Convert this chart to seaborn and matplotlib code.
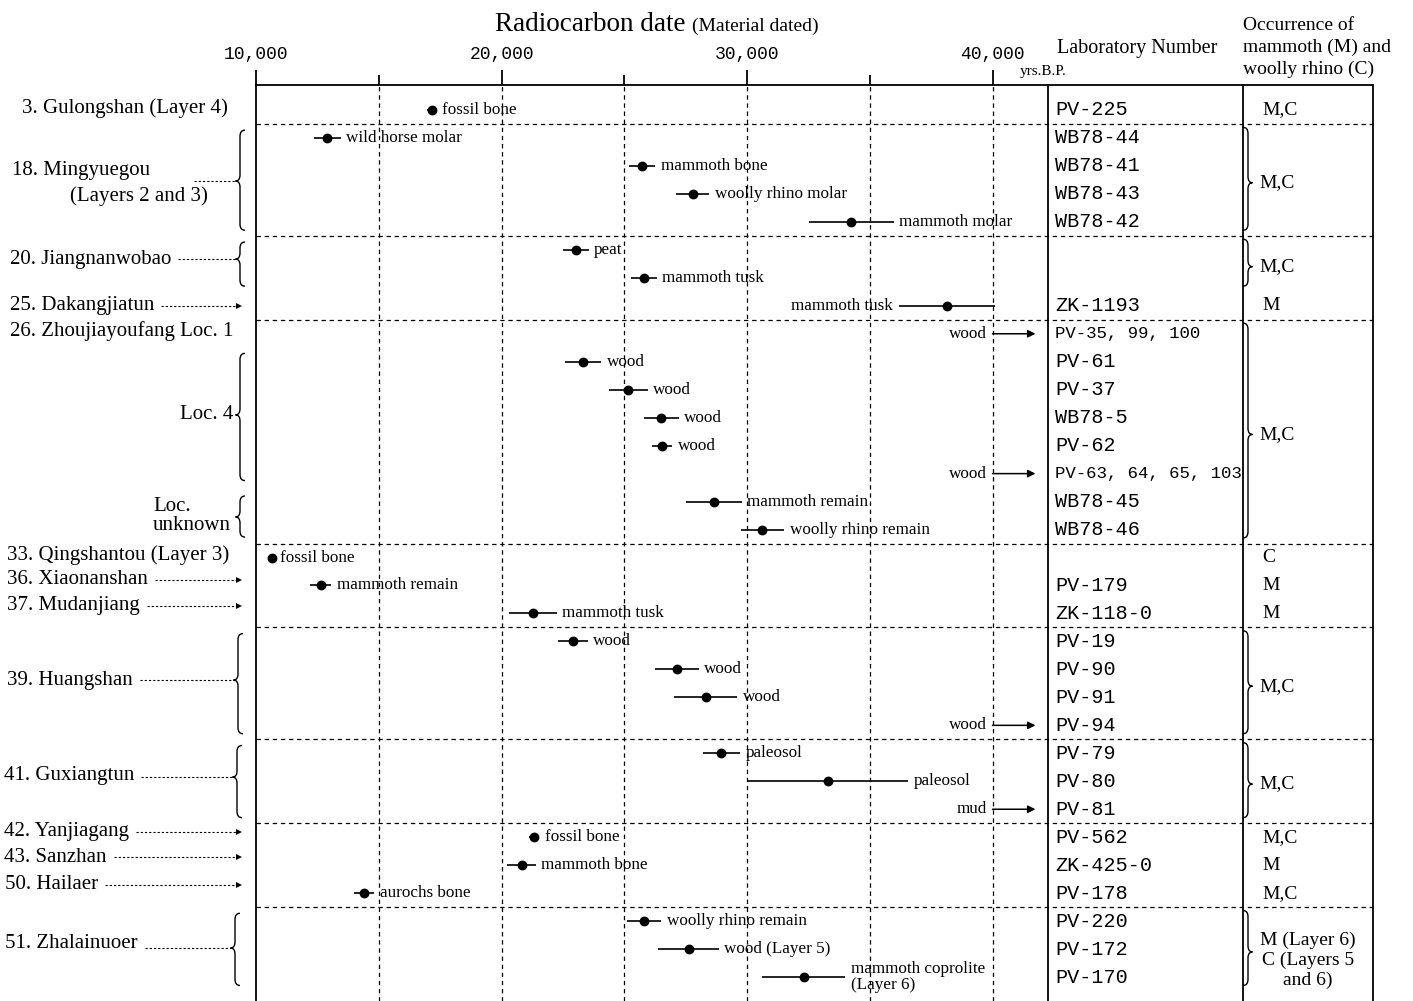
import numpy as np
import pandas as pd
import matplotlib
matplotlib.use("Agg")
import matplotlib.pyplot as plt
import matplotlib.transforms as mtransforms
from matplotlib.path import Path
from matplotlib.patches import PathPatch
from matplotlib.lines import Line2D
import seaborn as sns

# ---------------- data ----------------
materials = ["fossil bone", "wild horse molar", "mammoth bone", "woolly rhino molar", "mammoth molar",
             "peat", "mammoth tusk", "mammoth tusk",
             "wood", "wood", "wood", "wood", "wood", "wood", "mammoth remain", "woolly rhino remain",
             "fossil bone", "mammoth remain", "mammoth tusk",
             "wood", "wood", "wood", "wood",
             "paleosol", "paleosol", "mud",
             "fossil bone", "mammoth bone", "aurochs bone",
             "woolly rhino remain", "wood (Layer 5)", "mammoth coprolite\n(Layer 6)"]
# radiocarbon dates (yrs B.P.); NaN = older than 40,000 (open-ended)
dates = [17150, 12900, 25730, 27790, 34250,
         23030, 25800, 38150,
         np.nan, 23330, 25170, 26510, 26530, np.nan, 28650, 30630,
         10660, 12630, 21270,
         22910, 27140, 28310, np.nan,
         28960, 33290, np.nan,
         21340, 20820, 14410,
         25800, 27620, 32310]
errors = [200, 550, 540, 670, 1730,
          520, 530, 1940,
          0, 740, 780, 700, 420, 0, 1140, 880,
          0, 440, 980,
          610, 890, 1300, 0,
          770, 3260, 0,
          200, 580, 415,
          700, 1230, 1680]
lab_numbers = ["PV-225", "WB78-44", "WB78-41", "WB78-43", "WB78-42",
               "", "", "ZK-1193",
               "PV-35, 99, 100", "PV-61", "PV-37", "WB78-5", "PV-62", "PV-63, 64, 65, 103", "WB78-45", "WB78-46",
               "", "PV-179", "ZK-118-0",
               "PV-19", "PV-90", "PV-91", "PV-94",
               "PV-79", "PV-80", "PV-81",
               "PV-562", "ZK-425-0", "PV-178",
               "PV-220", "PV-172", "PV-170"]
open_limit = 40000
open_end = 41750

site_names = ["3. Gulongshan (Layer 4)", "18. Mingyuegou", "20. Jiangnanwobao", "25. Dakangjiatun",
              "26. Zhoujiayoufang Loc. 1", "33. Qingshantou (Layer 3)", "36. Xiaonanshan", "37. Mudanjiang",
              "39. Huangshan", "41. Guxiangtun", "42. Yanjiagang", "43. Sanzhan", "50. Hailaer",
              "51. Zhalainuoer"]
site_counts = [1, 4, 2, 1, 8, 1, 1, 1, 4, 3, 1, 1, 1, 3]
site_block = [0, 1, 2, 2, 3, 4, 4, 4, 5, 6, 7, 7, 7, 8]
occurrence = ["M,C", "M,C", "M,C", "M", "M,C", "C", "M", "M", "M,C", "M,C", "M,C", "M", "M,C",
              "M (Layer 6)\nC (Layers 5\nand 6)"]
sub_localities = ["Loc. 4", "Loc.\nunknown"]
sub_loc_rows = [(9, 13), (14, 15)]

tick_values = [10000, 20000, 30000, 40000]
tick_labels = ["10,000", "20,000", "30,000", "40,000"]
minor_values = [15000, 25000, 35000]

# ---------------- layout ----------------
W, H = 1413, 1001
SERIF = ["Liberation Serif", "DejaVu Serif"]
MONO = ["Liberation Mono", "DejaVu Sans Mono"]

sns.set_style("white")
plt.rcParams["font.family"] = SERIF
plt.rcParams["text.color"] = "black"
plt.rcParams["xtick.color"] = "black"
plt.rcParams["axes.edgecolor"] = "black"

fig = plt.figure(figsize=(W / 100, H / 100), dpi=100)
top_px, left_px, right_px = 85, 256, 1048
ax = fig.add_axes([left_px / W, 0, (right_px - left_px) / W, (H - top_px) / H])

def fx(px):
    return px / W

def fy(py):
    return 1 - py / H

blend = mtransforms.blended_transform_factory(fig.transFigure, ax.transData)
row_top = (top_px - 110) / 27.97
row_bottom = (H - 110) / 27.97

n = len(materials)
df = pd.DataFrame({"row": np.arange(n), "material": materials, "date": dates,
                   "err": errors, "lab": lab_numbers})
closed = df[df["date"].notna()]

MAT_FS = 12.3

# error bars + points
ax.hlines(closed["row"], closed["date"] - closed["err"], closed["date"] + closed["err"],
          color="black", lw=1.2, zorder=3)
sns.scatterplot(data=closed, x="date", y="row", color="black", s=50, linewidth=0,
                ax=ax, legend=False, zorder=4)

for _, r in df.iterrows():
    if np.isnan(r["date"]):
        ax.annotate("", xy=(open_end, r["row"]), xytext=(open_limit, r["row"]),
                    arrowprops=dict(arrowstyle="-|>", color="black", lw=1.1,
                                    mutation_scale=11, shrinkA=0, shrinkB=0), zorder=4)
        ax.annotate(r["material"], xy=(open_limit, r["row"]), xytext=(-4, 0),
                    textcoords="offset points", ha="right", va="center", fontsize=MAT_FS)
    elif r["row"] == 7:
        ax.annotate(r["material"], xy=(r["date"] - r["err"], r["row"]), xytext=(-5, 0),
                    textcoords="offset points", ha="right", va="center", fontsize=MAT_FS)
    elif r["err"] == 0:
        ax.annotate(r["material"], xy=(r["date"], r["row"]), xytext=(5.5, 0),
                    textcoords="offset points", ha="left", va="center", fontsize=MAT_FS)
    else:
        ax.annotate(r["material"], xy=(r["date"] + r["err"], r["row"]), xytext=(4, 0),
                    textcoords="offset points", ha="left", va="center", fontsize=MAT_FS,
                    linespacing=1.05)

# axes styling
ax.set_xlim(10000, 42260)
ax.set_ylim(row_bottom, row_top)
ax.xaxis.tick_top()
ax.set_xticks(tick_values)
ax.set_xticklabels(tick_labels, fontfamily=MONO, fontsize=13, color="black")
ax.set_xticks(minor_values, minor=True)
ax.tick_params(axis="x", which="major", direction="out", length=11, width=1.3, pad=5,
               top=True, bottom=False, colors="black")
ax.tick_params(axis="x", which="minor", direction="out", length=7.5, width=1.3,
               top=True, bottom=False, colors="black")
ax.set_yticks([])
ax.set_xlabel("")
ax.set_ylabel("")
for s in ["top", "left", "right"]:
    ax.spines[s].set_visible(True)
    ax.spines[s].set_color("black")
    ax.spines[s].set_linewidth(1.3)
ax.spines["bottom"].set_visible(False)
for xv in minor_values + tick_values[1:]:
    ax.axvline(xv, color="black", lw=0.9, ls=(0, (3.5, 3)), zorder=1)

# ---------------- table lines ----------------
for xp in [1243, 1373]:
    fig.add_artist(Line2D([fx(xp), fx(xp)], [row_top, row_bottom], transform=blend,
                          color="black", lw=1.3))
fig.add_artist(Line2D([fx(right_px), fx(1373)], [row_top, row_top], transform=blend,
                      color="black", lw=1.3))

# block separators
starts = np.cumsum([0] + site_counts[:-1])
for i in range(1, len(site_names)):
    if site_block[i] != site_block[i - 1]:
        yr = starts[i] - 0.5
        fig.add_artist(Line2D([fx(left_px), fx(1373)], [yr, yr], transform=blend,
                              color="black", lw=0.9, ls=(0, (3.5, 3))))

# ---------------- helpers ----------------
P = Path
def brace(xpx, r0, r1, rtip, side):
    x = fx(xpx)
    hook = fx(5) * (-side)
    tipx = x + side * fx(4.5)
    dr = 0.22
    verts = [(x + hook, r0), (x, r0), (x, r0 + dr),
             (x, rtip - dr), (x, rtip), (tipx, rtip),
             (x, rtip), (x, rtip + dr),
             (x, r1 - dr), (x, r1), (x + hook, r1)]
    codes = [P.MOVETO, P.CURVE3, P.CURVE3, P.LINETO, P.CURVE3, P.CURVE3,
             P.CURVE3, P.CURVE3, P.LINETO, P.CURVE3, P.CURVE3]
    fig.add_artist(PathPatch(Path(verts, codes), transform=blend, fill=False,
                             lw=1.0, ec="black"))

renderer = fig.canvas.get_renderer()

def leader(x0px, x1px, r, arrow):
    fig.add_artist(Line2D([fx(x0px), fx(x1px)], [r, r], transform=blend, color="black",
                          lw=0.8, ls=(0, (2, 1.8))))
    if arrow:
        fig.add_artist(Line2D([fx(x1px)], [r], transform=blend, color="black", marker=">",
                              ms=4.5, mew=0))

# ---------------- left site labels ----------------
label_x = [22, 12, 10, 10, 10, 7, 7, 7, 7, 4, 4, 4, 5, 5]
label_rows = [-0.05, 2.18, 5.33, 7.0, 7.92, 15.9, 16.8, 17.72, 20.38, 23.8, 25.8, 26.72, 27.7, 29.8]
leader_kind = ["none", "brace", "brace", "arrow", "none", "none", "arrow", "arrow",
               "brace", "brace", "arrow", "arrow", "arrow", "brace"]
brace_x = [0, 240, 240, 0, 0, 0, 0, 0, 238, 237, 0, 0, 0, 235]
tip_rows = [0, 2.54, 5.33, 0, 0, 0, 0, 0, 20.38, 23.85, 0, 0, 0, 29.96]

for i, name in enumerate(site_names):
    t = fig.text(fx(label_x[i]), label_rows[i], name, transform=blend, ha="left",
                 va="center", fontsize=15)
    first, last = starts[i], starts[i] + site_counts[i] - 1
    xend = t.get_window_extent(renderer).x1
    if leader_kind[i] == "arrow":
        leader(xend + 7, 239, label_rows[i], True)
    elif leader_kind[i] == "brace":
        brace(brace_x[i], first - 0.28, last + 0.3, tip_rows[i], -1)
        x0 = 194 if i == 1 else xend + 7
        leader(x0, brace_x[i] - 4.5, tip_rows[i], False)

fig.text(fx(70), 3.07, "(Layers 2 and 3)", transform=blend, ha="left", va="center", fontsize=15)

# sub-localities of Zhoujiayoufang
fig.text(fx(233), 10.9, sub_localities[0], transform=blend, ha="right", va="center", fontsize=15)
brace(240, sub_loc_rows[0][0] - 0.3, sub_loc_rows[0][1] + 0.25, 10.9, -1)
fig.text(fx(153), 14.5, sub_localities[1], transform=blend, ha="left", va="center",
         fontsize=15, linespacing=1.0)
brace(240, sub_loc_rows[1][0] - 0.2, sub_loc_rows[1][1] + 0.27, 14.55, -1)

# ---------------- lab numbers ----------------
for _, r in df.iterrows():
    if r["lab"]:
        fs = 12.5 if "," in r["lab"] else 14.5
        fig.text(fx(1055), r["row"], r["lab"], transform=blend, ha="left", va="center",
                 fontsize=fs, family=MONO)

# ---------------- occurrence ----------------
for i, occ in enumerate(occurrence):
    first, last = starts[i], starts[i] + site_counts[i] - 1
    if site_counts[i] == 1:
        fig.text(fx(1262), first, occ, transform=blend, ha="left", va="center", fontsize=14)
    else:
        mid = (first + last) / 2 + 0.1
        brace(1248, first - 0.38, last + 0.3, mid, +1)
        if "\n" in occ:
            fig.text(fx(1308), mid + 0.3, occ, transform=blend, ha="center", va="center",
                     fontsize=14, multialignment="center", linespacing=1.2)
        else:
            fig.text(fx(1259), mid, occ, transform=blend, ha="left", va="center", fontsize=14)

# ---------------- header ----------------
t1 = fig.text(fx(495), fy(31), "Radiocarbon date", ha="left", va="baseline", fontsize=19.5)
x1 = t1.get_window_extent(renderer).x1
fig.text(fx(x1 + 6), fy(31), "(Material dated)", ha="left", va="baseline", fontsize=14)
fig.text(fx(1020), fy(75), "yrs.B.P.", ha="left", va="baseline", fontsize=11)
fig.text(fx(1057), fy(53), "Laboratory Number", ha="left", va="baseline", fontsize=14.5)
for k, line in enumerate(["Occurrence of", "mammoth (M) and", "woolly rhino (C)"]):
    fig.text(fx(1243), fy(30 + 22 * k), line, ha="left", va="baseline", fontsize=14)

fig.savefig("out.png", dpi=100, facecolor="white")
